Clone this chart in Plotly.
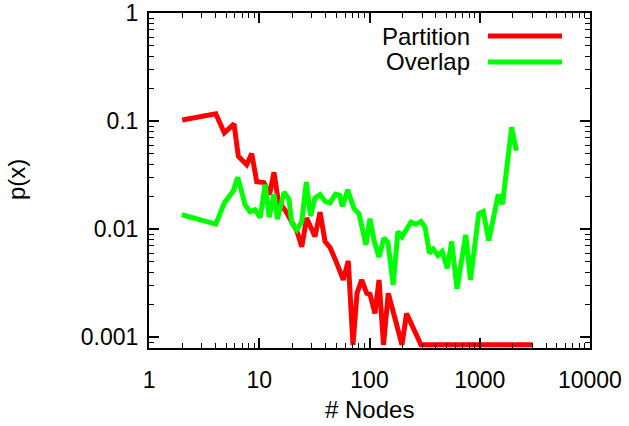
import plotly.graph_objects as go

# ---- data ----
partition_x = [2, 4.03, 4.82, 5.9, 6.46, 7.69, 8.54, 9.48, 11.0, 12.4, 13.6, 14.9, 17.1,
               19.7, 21.9, 24.3, 26.9, 32.0, 35.6, 39.5, 43.8, 49.7, 57.8, 64.2, 70.8,
               77.1, 85.0, 94.3, 101, 112, 122, 134, 148, 170, 197, 217, 293,
               400, 600, 1000, 1600, 3000]
partition_y = [0.1026, 0.1171, 0.078, 0.0946, 0.0473, 0.0396, 0.0501, 0.0275, 0.027, 0.0209,
               0.0336, 0.018, 0.0151, 0.0114, 0.00966, 0.00687, 0.0127, 0.00855, 0.01435,
               0.00769, 0.00679, 0.00504, 0.00339, 0.00509, 0.00085, 0.00257, 0.00339,
               0.00255, 0.0025, 0.00166, 0.00339, 0.00085, 0.00255, 0.0015, 0.00085,
               0.00166, 0.00085, 0.00085, 0.00085, 0.00085, 0.00085, 0.00085]

overlap_x = [1.98, 4.03, 4.82, 5.82, 6.38, 7.43, 8.25, 9.15, 10.2, 11.3, 12.3, 13.6, 14.6,
             16.8, 18.6, 19.7, 21.9, 24.3, 26.7, 29.2, 32.0, 35.6, 39.5, 43.8, 49.2, 53.5,
             56.9, 63.4, 72.3, 80.3, 92.9, 101, 110.5, 122, 135, 147, 164, 181, 197, 238,
             264, 293, 319, 350, 379, 418, 456, 508, 557, 622, 747, 825, 980, 1077, 1208,
             1473, 1608, 1949, 2150]
overlap_y = [0.0136, 0.01115, 0.0175, 0.0227, 0.0302, 0.01685, 0.0145, 0.0151, 0.0128, 0.0259,
             0.0129, 0.0211, 0.0124, 0.022, 0.019, 0.0114, 0.00987, 0.0118, 0.0273, 0.0133,
             0.0194, 0.0209, 0.0181, 0.0175, 0.0211, 0.0206, 0.0163, 0.0232, 0.0155, 0.0139,
             0.00716, 0.0125, 0.00769, 0.00554, 0.00827, 0.00756, 0.00305, 0.00952, 0.0085,
             0.0116, 0.0111, 0.0118, 0.0105, 0.006, 0.00653, 0.00572, 0.00621, 0.00435,
             0.00769, 0.0028, 0.00887, 0.00339, 0.0139, 0.0146, 0.00786, 0.0209, 0.017,
             0.0878, 0.0532]

x_ticks = [1, 10, 100, 1000, 10000]
x_tick_labels = ["1", "10", "100", "1000", "10000"]
y_ticks = [0.001, 0.01, 0.1, 1]
y_tick_labels = ["0.001", "0.01", "0.1", "1"]

series_names = ["Partition", "Overlap"]
series_colors = ["#ff0000", "#00ff00"]

FONT = "Liberation Sans, Arial, Helvetica, sans-serif"
TICK_SIZE = 23
TEXT_SIZE = 24

x_minor = [m * 10 ** k for k in range(0, 4) for m in range(2, 10)]
y_minor = [m * 10 ** k for k in range(-4, 0) for m in range(2, 10)]

fig = go.Figure()
fig.add_trace(go.Scatter(x=partition_x, y=partition_y, mode="lines", name=series_names[0],
                         line=dict(color=series_colors[0], width=5, shape="linear")))
fig.add_trace(go.Scatter(x=overlap_x, y=overlap_y, mode="lines", name=series_names[1],
                         line=dict(color=series_colors[1], width=5, shape="linear")))

axis_common = dict(showgrid=False, zeroline=False, showline=True, linecolor="black",
                   linewidth=2, mirror="allticks", ticks="inside", ticklen=10,
                   tickwidth=1.5, tickcolor="black", ticklabeloverflow="allow",
                   tickfont=dict(family=FONT, size=TICK_SIZE, color="black"))

fig.update_xaxes(type="log", range=[-0.0005, 4.0005], tickmode="array", tickvals=x_ticks,
                 ticktext=x_tick_labels, ticklabelstandoff=10,
                 minor=dict(tickmode="array", tickvals=x_minor, ticks="inside",
                            ticklen=5, tickwidth=1.2, tickcolor="black", showgrid=False),
                 **axis_common)
fig.update_yaxes(type="log", range=[-3.1, 0.002], tickmode="array", tickvals=y_ticks,
                 ticktext=y_tick_labels, ticklabelstandoff=4,
                 minor=dict(tickmode="array", tickvals=y_minor, ticks="inside",
                            ticklen=5, tickwidth=1.2, tickcolor="black", showgrid=False),
                 **axis_common)

# gnuplot-style key: text right-aligned, line sample to its right
legend_rows_y = [0.931, 0.854]
for name, color, yy in zip(series_names, series_colors, legend_rows_y):
    fig.add_annotation(xref="paper", yref="paper", x=0.7324, y=yy, text=name,
                       showarrow=False, xanchor="right", yanchor="middle",
                       font=dict(family=FONT, size=TEXT_SIZE, color="black"))
    fig.add_shape(type="line", xref="paper", yref="paper", x0=0.7687, x1=0.9365,
                  y0=yy, y1=yy, line=dict(color=color, width=5))

fig.add_annotation(xref="paper", yref="paper", x=0.499, y=-0.185, text="# Nodes",
                   showarrow=False, xanchor="center", yanchor="middle",
                   font=dict(family=FONT, size=TEXT_SIZE, color="black"))
fig.add_annotation(xref="paper", yref="paper", x=-0.2993, y=0.5015, text="p(x)",
                   showarrow=False, xanchor="center", yanchor="middle", textangle=-90,
                   font=dict(family=FONT, size=TEXT_SIZE, color="black"))

fig.update_layout(width=629, height=426, showlegend=False,
                  margin=dict(l=149, r=39, t=13, b=78, autoexpand=False),
                  paper_bgcolor="white", plot_bgcolor="white")

# remove the default 8px page margin so the figure fills the window exactly
fig.write_html("out.html", config={"displayModeBar": False},
               post_script="document.body.style.margin='0px';")
